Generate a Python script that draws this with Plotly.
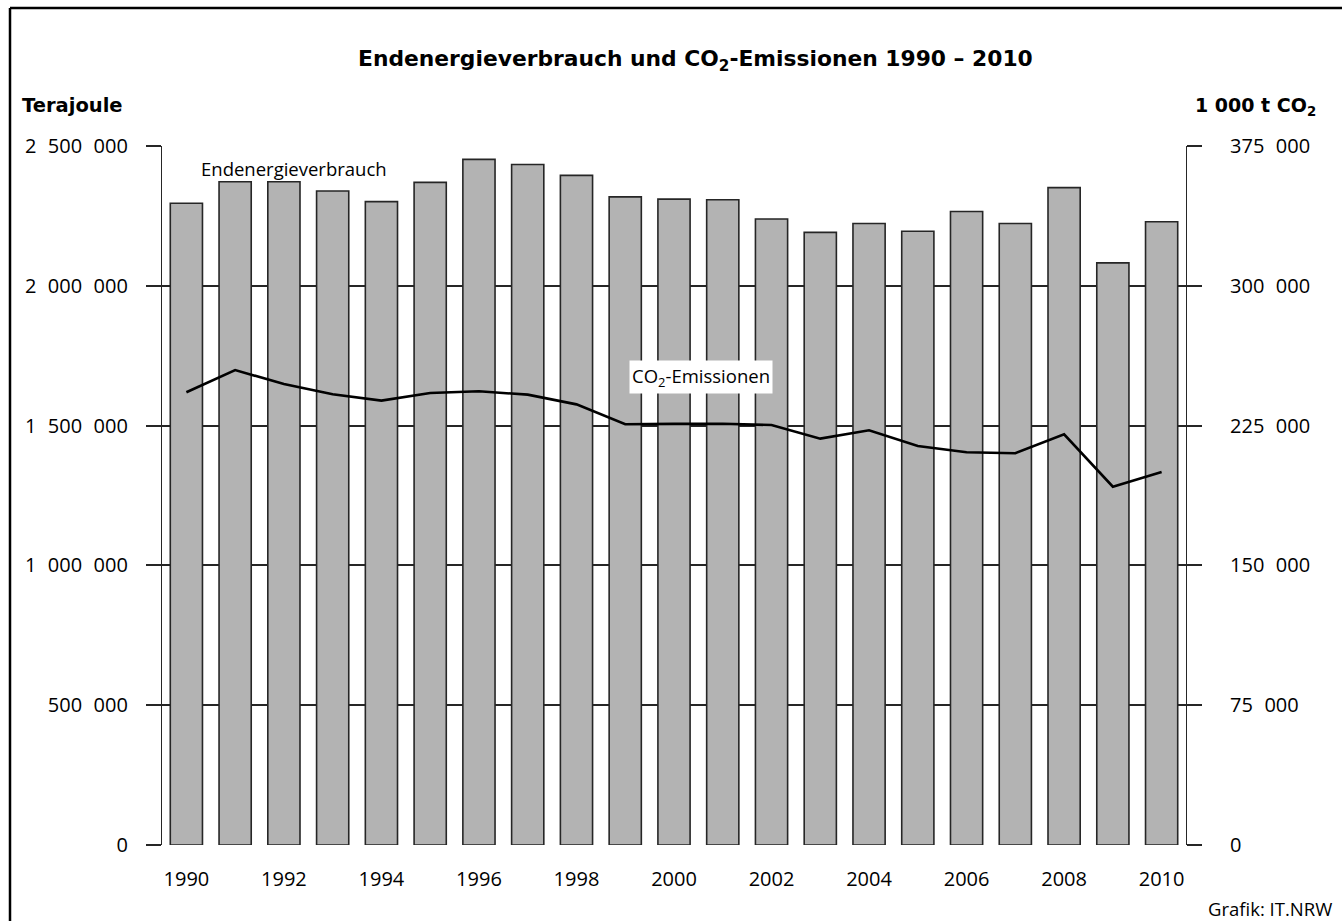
"""
Endenergieverbrauch (bars, Terajoule) and CO2 emissions (line, 1 000 t)
for NRW, 1990 - 2010, styled after the IT.NRW print graphic.
"""

import plotly.graph_objects as go

# ── Data ─────────────────────────────────────────────────────────────────────

YEARS = list(range(1990, 2011))

ENERGY_TJ = [
    2295000, 2372000, 2372000, 2339000, 2301000, 2370000, 2452000,
    2434000, 2395000, 2318000, 2310000, 2308000, 2239000, 2191000,
    2223000, 2195000, 2266000, 2223000, 2351000, 2082000, 2229000,
]

CO2_KT = [
    242900, 254800, 247300, 241800, 238400, 242500, 243400,
    241600, 236400, 225700, 225900, 226000, 225300, 218000,
    222500, 214100, 210700, 210200, 220300, 192200, 200100,
]

FS = "\u2007"  # figure space, same width as a digit
LEFT_TICKS = [0, 500000, 1000000, 1500000, 2000000, 2500000]
LEFT_TICKTEXT = ["0", f"500{FS}000", f"1{FS}000{FS}000", f"1{FS}500{FS}000",
                 f"2{FS}000{FS}000", f"2{FS}500{FS}000"]
RIGHT_TICKS = [0, 75000, 150000, 225000, 300000, 375000]
RIGHT_TICKTEXT = ["0", f"75{FS}000", f"150{FS}000", f"225{FS}000",
                  f"300{FS}000", f"375{FS}000"]
X_TICKS = list(range(1990, 2011, 2))

# ── Style ────────────────────────────────────────────────────────────────────

FONT = "Open Sans"
BOLD_FONT = "DejaVu Sans"
TEXT_COLOR = "#000000"
BAR_FILL = "#b3b3b3"
BAR_EDGE = "#262626"
GRID_COLOR = "#262626"

W, H = 1342, 921
M_L, M_R, M_T, M_B = 162, 156, 146, 76
PW, PH = W - M_L - M_R, H - M_T - M_B


def px_x(x):
    """pixel x -> paper x"""
    return (x - M_L) / PW


def px_y(y):
    """pixel y -> paper y"""
    return (H - M_B - y) / PH


fig = go.Figure()

fig.add_trace(
    go.Bar(
        x=YEARS,
        y=ENERGY_TJ,
        width=0.66,
        marker=dict(color=BAR_FILL, line=dict(color=BAR_EDGE, width=1.6)),
        name="Endenergieverbrauch",
        hovertemplate="%{x}: %{y:,} TJ<extra></extra>",
    )
)

fig.add_trace(
    go.Scatter(
        x=YEARS,
        y=CO2_KT,
        yaxis="y2",
        mode="lines",
        line=dict(color="#000000", width=2.6),
        name="CO2-Emissionen",
        hovertemplate="%{x}: %{y:,} Tsd. t<extra></extra>",
    )
)

fig.update_layout(
    width=W,
    height=H,
    paper_bgcolor="#ffffff",
    plot_bgcolor="#ffffff",
    font=dict(family=FONT, color=TEXT_COLOR, size=20),
    showlegend=False,
    margin=dict(l=M_L, r=M_R, t=M_T, b=M_B, pad=0),
    xaxis=dict(
        range=[1989.5, 2010.5],
        tickvals=X_TICKS,
        ticks="",
        showgrid=False,
        zeroline=False,
        showline=False,
        ticklabelstandoff=20,
        tickfont=dict(size=20),
    ),
    yaxis=dict(
        range=[0, 2500000],
        tickvals=LEFT_TICKS,
        ticktext=LEFT_TICKTEXT,
        ticks="outside",
        ticklen=15,
        tickwidth=1.5,
        tickcolor=GRID_COLOR,
        showgrid=True,
        gridcolor=GRID_COLOR,
        gridwidth=1.5,
        zeroline=False,
        showline=True,
        linecolor=GRID_COLOR,
        linewidth=1.2,
        ticklabelstandoff=14,
        tickfont=dict(size=20),
    ),
    yaxis2=dict(
        overlaying="y",
        side="right",
        range=[0, 375000],
        tickvals=RIGHT_TICKS,
        ticktext=RIGHT_TICKTEXT,
        ticks="outside",
        ticklen=15,
        tickwidth=1.5,
        tickcolor=GRID_COLOR,
        showgrid=False,
        zeroline=False,
        showline=True,
        linecolor=GRID_COLOR,
        linewidth=1.2,
        ticklabelstandoff=24,
        tickfont=dict(size=20),
    ),
)

annotations = [
    # title
    dict(text="<b>Endenergieverbrauch und CO<sub>2</sub>-Emissionen 1990 – 2010</b>",
         x=px_x(695), y=px_y(60), xanchor="center", yanchor="middle",
         size=21.8, family=BOLD_FONT),
    # axis unit labels
    dict(text="<b>Terajoule</b>", x=px_x(20), y=px_y(105),
         xanchor="left", yanchor="middle", size=19.5, family=BOLD_FONT),
    dict(text="<b>1 000 t CO<sub>2</sub></b>", x=px_x(1318), y=px_y(106),
         xanchor="right", yanchor="middle", size=19, family=BOLD_FONT),
    # series labels
    dict(text="Endenergieverbrauch", x=px_x(294), y=px_y(168),
         xanchor="center", yanchor="middle", size=18.5, family=FONT),
    dict(text="CO<sub>2</sub>-Emissionen", x=px_x(701), y=px_y(377),
         xanchor="center", yanchor="middle", size=18.5, family=FONT,
         bgcolor="#ffffff", borderpad=2),
    # source
    dict(text="Grafik: IT.NRW", x=px_x(1334), y=px_y(908),
         xanchor="right", yanchor="middle", size=18.5, family=FONT),
]
for a in annotations:
    size = a.pop("size")
    family = a.pop("family")
    fig.add_annotation(
        xref="paper", yref="paper", showarrow=False,
        font=dict(family=family, size=size, color=TEXT_COLOR),
        **a,
    )

# outer frame (left and top edges of the print box)
fig.add_shape(type="line", xref="paper", yref="paper",
              x0=px_x(10), x1=px_x(10), y0=px_y(8), y1=px_y(925),
              line=dict(color="#000000", width=2.5))
fig.add_shape(type="line", xref="paper", yref="paper",
              x0=px_x(10), x1=px_x(1345), y0=px_y(8), y1=px_y(8),
              line=dict(color="#000000", width=2.5))

# drop the browser's default body margin so the figure sits at (0, 0)
fig.write_html(
    "out.html",
    config={"displayModeBar": False},
    post_script="document.body.style.margin='0';",
)
